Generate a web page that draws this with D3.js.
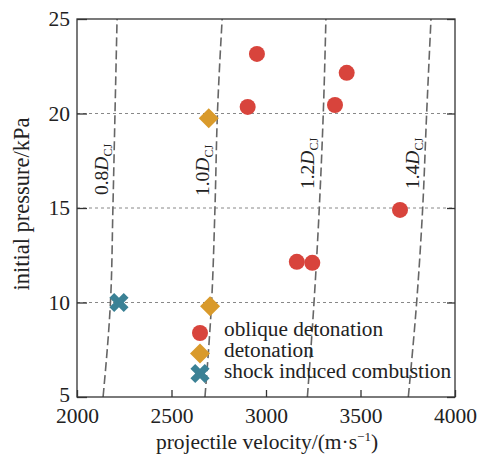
<!DOCTYPE html>
<html>
<head>
<meta charset="utf-8">
<script src="https://cdn.jsdelivr.net/npm/d3@7"></script>
<style>
  body { margin: 0; background: #fff; }
  svg text { font-family: "Liberation Serif", "Times New Roman", serif; fill: #222; }
</style>
</head>
<body>
<div id="vis-container"></div>
<script>
// chart size and plot margins
const width = 481;
const height = 459;
const margin = { left: 77, right: 26, top: 19, bottom: 62 };

// data
const xTicks = [2000, 2500, 3000, 3500, 4000];
const yTicks = [5, 10, 15, 20, 25];
const gridLevels = [10, 15, 20];

// D_CJ ratio curves: velocity at each pressure
const curvePressure = [5, 10, 15, 20, 25];
const curve08 = [2138, 2177, 2190, 2201, 2212];
const curve10 = [2677, 2712, 2730, 2743, 2768];
const curve12 = [3219, 3254, 3282, 3303, 3317];
const curve14 = [3753, 3797, 3829, 3850, 3873];
const curveNames = ["0.8", "1.0", "1.2", "1.4"];

const obliqueV = [2952, 2903, 3365, 3427, 3709, 3163, 3245];
const obliqueP = [23.15, 20.35, 20.45, 22.15, 14.9, 12.15, 12.1];
const detonationV = [2697, 2704];
const detonationP = [19.75, 9.8];
const shockV = [2222];
const shockP = [10.0];

const legendNames = ["oblique detonation", "detonation", "shock induced combustion"];

const red = "#d8443c", orange = "#d99a2b", teal = "#3b8195";
const serif = "Liberation Serif, Times New Roman, serif";

const svg = d3.select("#vis-container")
  .append("svg")
  .attr("width", width)
  .attr("height", height);

const x = d3.scaleLinear()
  .domain([2000, 4000])
  .range([margin.left, width - margin.right]);

const y = d3.scaleLinear()
  .domain([5, 25])
  .range([height - margin.bottom, margin.top]);

// dotted grid lines
svg.append("g")
  .selectAll("line")
  .data(gridLevels)
  .join("line")
  .attr("x1", x(2000))
  .attr("x2", x(4000))
  .attr("y1", d => y(d))
  .attr("y2", d => y(d))
  .attr("stroke", "#888")
  .attr("stroke-width", 1)
  .attr("stroke-dasharray", "3,3");

// dashed D_CJ curves
const curves = [curve08, curve10, curve12, curve14];
const line = d3.line()
  .x(d => x(d[0]))
  .y(d => y(d[1]))
  .curve(d3.curveMonotoneY);

svg.append("g")
  .selectAll("path")
  .data(curves)
  .join("path")
  .attr("d", c => line(c.map((v, i) => [v, curvePressure[i]])))
  .attr("fill", "none")
  .attr("stroke", "#666")
  .attr("stroke-width", 1.6)
  .attr("stroke-dasharray", "9,4");

// curve labels, rotated
const labelPos = [[108, 195], [209, 196], [314, 189], [419, 189]];
curveNames.forEach((n, i) => {
  const t = svg.append("text")
    .attr("transform", `translate(${labelPos[i][0]},${labelPos[i][1]}) rotate(-90)`)
    .attr("font-size", "19.5px");
  t.append("tspan").text(n);
  t.append("tspan").attr("font-style", "italic").text("D");
  t.append("tspan").attr("font-size", "12px").attr("dy", 4).text("CJ");
});

// axes frame
svg.append("rect")
  .attr("x", x(2000))
  .attr("y", y(25))
  .attr("width", x(4000) - x(2000))
  .attr("height", y(5) - y(25))
  .attr("fill", "none")
  .attr("stroke", "#333")
  .attr("stroke-width", 1.3);

// x-axis (ticks inward)
svg.append("g")
  .attr("transform", `translate(0,${y(5)})`)
  .call(d3.axisBottom(x).tickValues(xTicks).tickFormat(d3.format("d"))
    .tickSizeInner(-7).tickSizeOuter(0).tickPadding(11))
  .call(g => g.select(".domain").remove())
  .call(g => g.selectAll("line").attr("stroke", "#333").attr("stroke-width", 1.3))
  .call(g => g.selectAll("text").attr("font-size", "21.5px").attr("font-family", serif).attr("fill", "#222"));

// y-axis (ticks inward)
svg.append("g")
  .attr("transform", `translate(${x(2000)},0)`)
  .call(d3.axisLeft(y).tickValues(yTicks).tickSizeInner(-10).tickSizeOuter(0).tickPadding(7))
  .call(g => g.select(".domain").remove())
  .call(g => g.selectAll("line").attr("stroke", "#333").attr("stroke-width", 1.3))
  .call(g => g.selectAll("text").attr("font-size", "21.5px").attr("font-family", serif).attr("fill", "#222"))
  .call(g => g.selectAll(".tick").filter(d => d === 5).select("text").attr("dy", "0.2em"));

// right side ticks
svg.append("g")
  .attr("transform", `translate(${x(4000)},0)`)
  .call(d3.axisRight(y).tickValues(yTicks).tickSizeInner(-8).tickSizeOuter(0).tickFormat(""))
  .call(g => g.select(".domain").remove())
  .call(g => g.selectAll("line").attr("stroke", "#333").attr("stroke-width", 1.3));

// axis titles
svg.append("text")
  .attr("x", 267)
  .attr("y", 449)
  .attr("text-anchor", "middle")
  .attr("font-size", "21.5px")
  .call(t => {
    t.append("tspan").text("projectile velocity/(m\u00b7s");
    t.append("tspan").attr("font-size", "13px").attr("dy", -8).text("\u22121");
    t.append("tspan").attr("dy", 8).text(")");
  });

svg.append("text")
  .attr("transform", `translate(29,204) rotate(-90)`)
  .attr("text-anchor", "middle")
  .attr("font-size", "22.5px")
  .text("initial pressure/kPa");

// markers
const diamond = d3.symbol().type(d3.symbolSquare).size(200);
const cross = d3.symbol().type(d3.symbolCross).size(230);

function drawCircle(g, cx, cy) {
  g.append("circle").attr("cx", cx).attr("cy", cy).attr("r", 8).attr("fill", red);
}
function drawDiamond(g, cx, cy) {
  g.append("path").attr("d", diamond).attr("transform", `translate(${cx},${cy}) rotate(45)`).attr("fill", orange);
}
function drawCross(g, cx, cy) {
  g.append("path").attr("d", cross).attr("transform", `translate(${cx},${cy}) rotate(45)`).attr("fill", teal);
}

const pts = svg.append("g");
obliqueV.forEach((v, i) => drawCircle(pts, x(v), y(obliqueP[i])));
detonationV.forEach((v, i) => drawDiamond(pts, x(v), y(detonationP[i])));
shockV.forEach((v, i) => drawCross(pts, x(v), y(shockP[i])));

// legend
const leg = svg.append("g");
const legY = [333, 353.5, 373.5];
drawCircle(leg, 200, legY[0]);
drawDiamond(leg, 200, legY[1]);
drawCross(leg, 200, legY[2]);
legendNames.forEach((n, i) => {
  leg.append("text")
    .attr("x", 224)
    .attr("y", legY[i] + 3 + i * 0.5)
    .attr("font-size", "21.3px")
    .text(n);
});
</script>
</body>
</html>
